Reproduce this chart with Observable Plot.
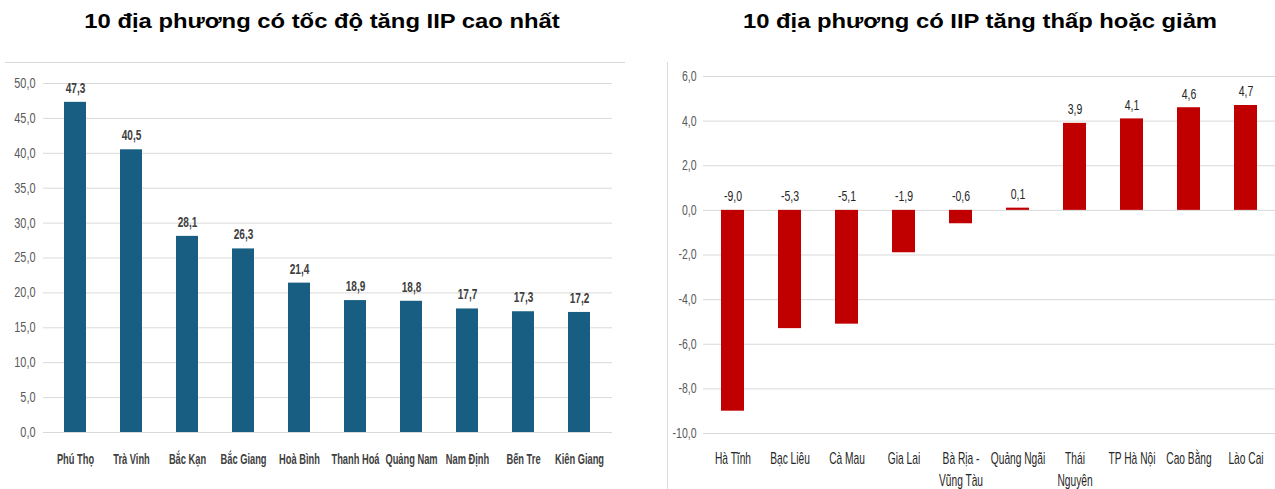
<!DOCTYPE html>
<html>
<head>
<meta charset="utf-8">
<script src="https://cdn.jsdelivr.net/npm/d3@7"></script>
<script src="https://cdn.jsdelivr.net/npm/@observablehq/plot@0.6"></script>
<style>
  body { margin: 0; background: #fff; }
  #wrap { position: relative; width: 1275px; height: 489px; overflow: hidden; background: #fff; }
  .title { position: absolute; top: 10px; font-family: "Liberation Sans", Arial, sans-serif; font-weight: bold; font-size: 20px; line-height: 23px; color: #000; text-align: center; white-space: nowrap; transform: scaleX(1.19); transform-origin: center; }
  .panel { position: absolute; top: 50px; }
  .frameTop { position: absolute; left: 5px; top: 62px; width: 620px; border-top: 1px solid #d9d9d9; }
  .frameLeft { position: absolute; left: 667px; top: 62px; height: 427px; border-left: 1px solid #d9d9d9; }
  svg { font-family: "Liberation Sans", Arial, sans-serif; }
</style>
</head>
<body>
<div id="wrap">
  <div class="title" style="left:0px;width:644px;">10 địa phương có tốc độ tăng IIP cao nhất</div>
  <div class="title" style="left:685px;width:590px;">10 địa phương có IIP tăng thấp hoặc giảm</div>
  <div class="frameTop"></div>
  <div class="frameLeft"></div>
  <div class="panel" id="left" style="left:0px;"></div>
  <div class="panel" id="right" style="left:640px;"></div>
</div>
<script>
const leftCategories = ["Phú Thọ", "Trà Vinh", "Bắc Kạn", "Bắc Giang", "Hoà Bình", "Thanh Hoá", "Quảng Nam", "Nam Định", "Bến Tre", "Kiên Giang"];
const leftValues = [47.3, 40.5, 28.1, 26.3, 21.4, 18.9, 18.8, 17.7, 17.3, 17.2];
const leftTicks = [0, 5, 10, 15, 20, 25, 30, 35, 40, 45, 50];

const rightCategories = ["Hà Tĩnh", "Bạc Liêu", "Cà Mau", "Gia Lai", "Bà Rịa -\nVũng Tàu", "Quảng Ngãi", "Thái\nNguyên", "TP Hà Nội", "Cao Bằng", "Lào Cai"];
const rightValues = [-9.0, -5.3, -5.1, -1.9, -0.6, 0.1, 3.9, 4.1, 4.6, 4.7];
const rightTicks = [-10, -8, -6, -4, -2, 0, 2, 4, 6];

const fmt = d => d.toFixed(1).replace(".", ",");

const leftData = leftCategories.map((c, i) => ({c, v: leftValues[i]}));
const rightData = rightCategories.map((c, i) => ({c, v: rightValues[i]}));

// compress glyphs horizontally to mimic a narrow typeface (text stays real text)
function narrow(svg, selector, factor) {
  svg.querySelectorAll(selector).forEach(t => {
    const spans = t.querySelectorAll("tspan");
    const targets = spans.length ? Array.from(spans) : [t];
    targets.forEach(el => {
      const len = el.getComputedTextLength();
      if (len > 0) {
        el.setAttribute("textLength", (len * factor).toFixed(2));
        el.setAttribute("lengthAdjust", "spacingAndGlyphs");
      }
    });
  });
}

const leftPlot = Plot.plot({
  width: 635, height: 439,
  marginLeft: 43, marginRight: 23, marginTop: 33, marginBottom: 57,
  style: {fontSize: "14px", color: "#595959"},
  x: {domain: leftCategories, paddingInner: 0.6, paddingOuter: 0.3, label: null},
  y: {domain: [0, 50], label: null},
  marks: [
    Plot.gridY(leftTicks, {stroke: "#d9d9d9", strokeOpacity: 1}),
    Plot.axisY({ticks: leftTicks, tickFormat: fmt, tickSize: 0, tickPadding: 8, label: null, fill: "#595959", fontSize: 14, className: "ytick"}),
    Plot.axisX({tickSize: 0, tickPadding: 21, label: null, fill: "#404040", fontSize: 15, fontWeight: "bold", className: "xtick"}),
    Plot.barY(leftData, {x: "c", y: "v", fill: "#185e82"}),
    Plot.text(leftData, {x: "c", y: "v", text: d => fmt(d.v), dy: -14, fill: "#404040", fontWeight: "bold", fontSize: 14, className: "vlab"})
  ]
});
document.getElementById("left").appendChild(leftPlot);
narrow(leftPlot, ".ytick text", 0.78);
narrow(leftPlot, ".xtick text", 0.62);
narrow(leftPlot, ".vlab text", 0.72);

const rightPlot = Plot.plot({
  width: 635, height: 439,
  marginLeft: 63, marginRight: 0, marginTop: 26, marginBottom: 56,
  style: {fontSize: "14px", color: "#595959"},
  x: {domain: rightCategories, paddingInner: 0.6, paddingOuter: 0.3, label: null},
  y: {domain: [-10, 6], label: null},
  marks: [
    Plot.gridY(rightTicks, {stroke: "#d9d9d9", strokeOpacity: 1}),
    Plot.axisY({ticks: rightTicks, tickFormat: fmt, tickSize: 0, tickPadding: 7, label: null, fill: "#595959", fontSize: 14, className: "ytick"}),
    Plot.axisX({tickSize: 0, tickPadding: 15, label: null, fill: "#262626", fontSize: 17, lineHeight: 1.3, className: "xtick"}),
    Plot.barY(rightData, {x: "c", y: "v", fill: "#c00000"}),
    Plot.text(rightData, {x: "c", y: d => Math.max(0, d.v), text: d => fmt(d.v), dy: -14, fill: "#262626", fontSize: 15, className: "vlab"})
  ]
});
document.getElementById("right").appendChild(rightPlot);
narrow(rightPlot, ".ytick text", 0.75);
narrow(rightPlot, ".xtick text", 0.6);
narrow(rightPlot, ".vlab text", 0.7);
</script>
</body>
</html>
